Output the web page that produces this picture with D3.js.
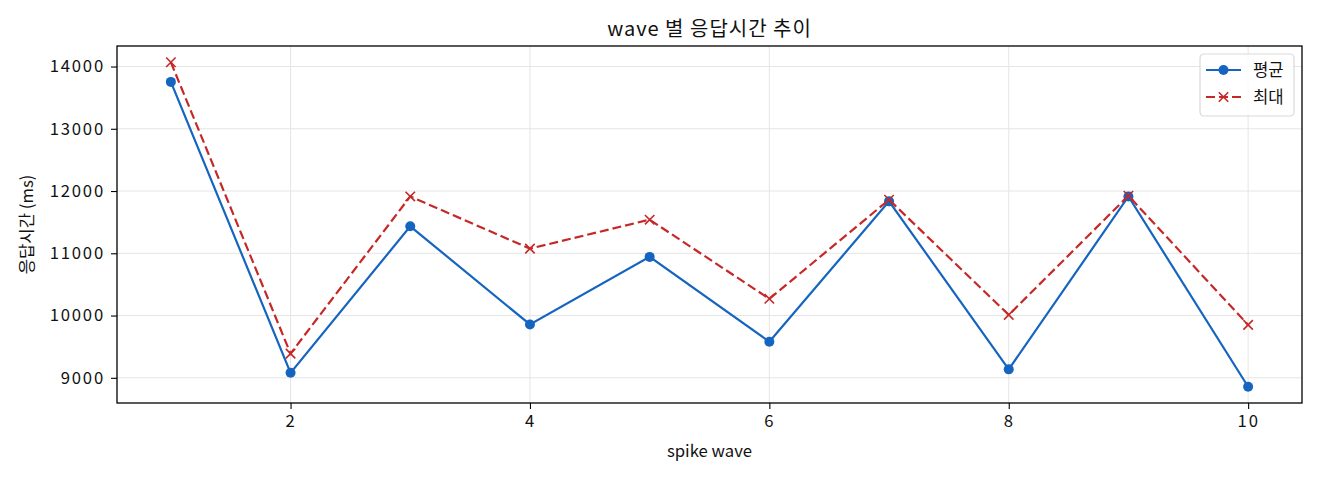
<!DOCTYPE html>
<html>
<head>
<meta charset="utf-8">
<script src="https://cdn.jsdelivr.net/npm/d3@7"></script>
<style>
  body { margin: 0; background: #fff; }
  text { font-family: "Noto Sans CJK KR", "Noto Sans", sans-serif; fill: #111; }
</style>
</head>
<body>
<div id="chart"></div>
<script>
// data
var waves = [1, 2, 3, 4, 5, 6, 7, 8, 9, 10];
var avgMs = [13753, 9080, 11433, 9857, 10942, 9580, 11834, 9136, 11913, 8856];
var maxMs = [14069, 9389, 11913, 11075, 11540, 10269, 11860, 10011, 11925, 9850];
var xTicks = [2, 4, 6, 8, 10];
var yTicks = [9000, 10000, 11000, 12000, 13000, 14000];
var seriesNames = ["평균", "최대"];

var width = 1320;
var height = 480;
var margin = { top: 46, right: 18, bottom: 77, left: 117 };

var svg = d3.select("#chart")
  .append("svg")
  .attr("width", width)
  .attr("height", height);

// same padding matplotlib adds (5% each side)
var xScale = d3.scaleLinear()
  .domain([0.55, 10.45])
  .range([margin.left, width - margin.right]);
var yMin = d3.min(avgMs.concat(maxMs));
var yMax = d3.max(avgMs.concat(maxMs));
var yPad = (yMax - yMin) * 0.05;
var yScale = d3.scaleLinear()
  .domain([yMin - yPad, yMax + yPad])
  .range([height - margin.bottom, margin.top]);

// grid
svg.append("g")
  .selectAll("line")
  .data(xTicks)
  .enter()
  .append("line")
  .attr("x1", function(d) { return xScale(d); })
  .attr("x2", function(d) { return xScale(d); })
  .attr("y1", margin.top)
  .attr("y2", height - margin.bottom)
  .attr("stroke", "#e5e5e5")
  .attr("stroke-width", 1);
svg.append("g")
  .selectAll("line")
  .data(yTicks)
  .enter()
  .append("line")
  .attr("x1", margin.left)
  .attr("x2", width - margin.right)
  .attr("y1", function(d) { return yScale(d); })
  .attr("y2", function(d) { return yScale(d); })
  .attr("stroke", "#e5e5e5")
  .attr("stroke-width", 1);

// axes
var xAxis = d3.axisBottom(xScale).tickValues(xTicks).tickFormat(d3.format("d")).tickSize(6).tickPadding(6);
var yAxis = d3.axisLeft(yScale).tickValues(yTicks).tickFormat(d3.format("d")).tickSize(6).tickPadding(6);

var gx = svg.append("g")
  .attr("transform", "translate(0," + (height - margin.bottom) + ")")
  .call(xAxis);
var gy = svg.append("g")
  .attr("transform", "translate(" + margin.left + ",0)")
  .call(yAxis);
[gx, gy].forEach(function(g) {
  g.select(".domain").remove();
  g.selectAll(".tick line").attr("stroke", "#000").attr("stroke-width", 1.1);
  g.selectAll(".tick text")
    .attr("font-size", 16.7)
    .style("font-family", "\"Noto Sans CJK KR\", sans-serif")
    .style("letter-spacing", "1.8px")
    .attr("fill", "#111");
});

// frame
svg.append("rect")
  .attr("x", margin.left)
  .attr("y", margin.top)
  .attr("width", width - margin.left - margin.right)
  .attr("height", height - margin.top - margin.bottom)
  .attr("fill", "none")
  .attr("stroke", "#000")
  .attr("stroke-width", 1.3);

// lines
var line = d3.line()
  .x(function(d, i) { return xScale(waves[i]); })
  .y(function(d) { return yScale(d); });

var red = "#c62828";
var blue = "#1565c0";

svg.append("path")
  .datum(avgMs)
  .attr("d", line)
  .attr("fill", "none")
  .attr("stroke", blue)
  .attr("stroke-width", 2.2);

svg.append("g")
  .selectAll("circle")
  .data(avgMs)
  .enter()
  .append("circle")
  .attr("cx", function(d, i) { return xScale(waves[i]); })
  .attr("cy", function(d) { return yScale(d); })
  .attr("r", 5)
  .attr("fill", blue);

svg.append("path")
  .datum(maxMs)
  .attr("d", line)
  .attr("fill", "none")
  .attr("stroke", red)
  .attr("stroke-width", 2.2)
  .attr("stroke-dasharray", "9,4");

var cross = d3.symbol().type(d3.symbolX).size(60);
svg.append("g")
  .selectAll("path")
  .data(maxMs)
  .enter()
  .append("path")
  .attr("d", cross)
  .attr("transform", function(d, i) {
    return "translate(" + xScale(waves[i]) + "," + yScale(d) + ")";
  })
  .attr("fill", "none")
  .attr("stroke", red)
  .attr("stroke-width", 1.6);

// title and labels
svg.append("text")
  .attr("x", (margin.left + width - margin.right) / 2)
  .attr("y", 36)
  .attr("text-anchor", "middle")
  .attr("font-size", 20)
  .style("letter-spacing", "1px")
  .text("wave 별 응답시간 추이");

svg.append("text")
  .attr("x", (margin.left + width - margin.right) / 2)
  .attr("y", 457)
  .attr("text-anchor", "middle")
  .attr("font-size", 16.7)
  .text("spike wave");

svg.append("text")
  .attr("transform", "translate(33," + ((margin.top + height - margin.bottom) / 2) + ") rotate(-90)")
  .attr("text-anchor", "middle")
  .attr("font-size", 16.7)
  .text("응답시간 (ms)");

// legend
var legend = svg.append("g").attr("transform", "translate(1200,54)");
legend.append("rect")
  .attr("width", 94)
  .attr("height", 62)
  .attr("rx", 4)
  .attr("fill", "#fff")
  .attr("fill-opacity", 0.8)
  .attr("stroke", "#d9d9d9")
  .attr("stroke-width", 1.2);

var legendRows = legend.selectAll("g.row")
  .data(seriesNames)
  .enter()
  .append("g")
  .attr("class", "row")
  .attr("transform", function(d, i) { return "translate(0," + (16 + i * 27) + ")"; });

legendRows.append("line")
  .attr("x1", 6)
  .attr("x2", 41)
  .attr("y1", 0)
  .attr("y2", 0)
  .attr("stroke", function(d, i) { return i === 0 ? blue : red; })
  .attr("stroke-width", 2.2)
  .attr("stroke-dasharray", function(d, i) { return i === 0 ? null : "9,4"; });

legendRows.each(function(d, i) {
  var g = d3.select(this);
  if (i === 0) {
    g.append("circle").attr("cx", 23.5).attr("cy", 0).attr("r", 5).attr("fill", blue);
  } else {
    g.append("path")
      .attr("d", cross)
      .attr("transform", "translate(23.5,0)")
      .attr("fill", "none")
      .attr("stroke", red)
      .attr("stroke-width", 1.6);
  }
});

legendRows.append("text")
  .attr("x", 53)
  .attr("y", 6)
  .attr("font-size", 16.7)
  .text(function(d) { return d; });
</script>
</body>
</html>
